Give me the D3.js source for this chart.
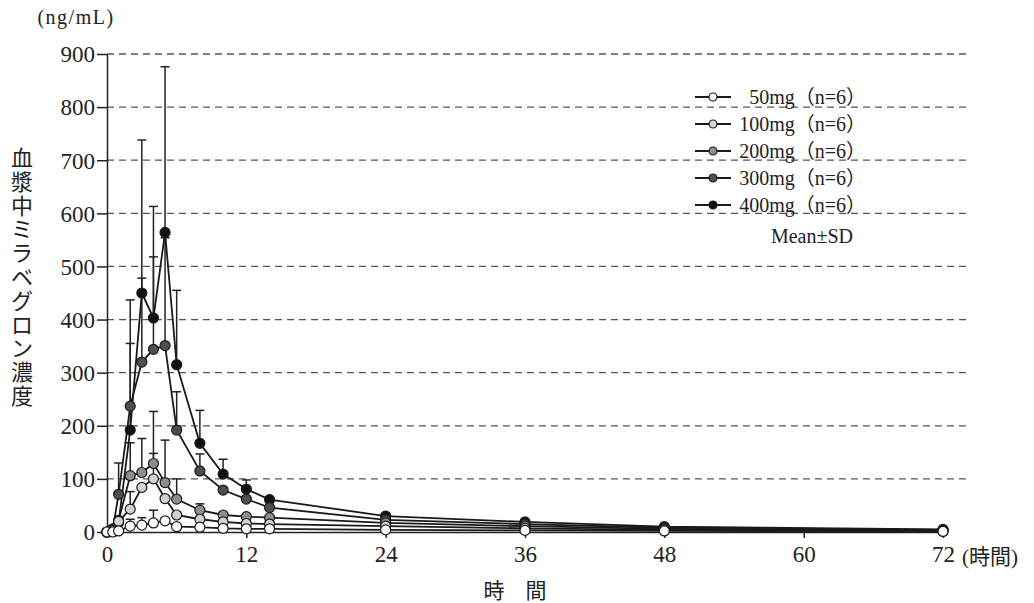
<!DOCTYPE html>
<html>
<head>
<meta charset="utf-8">
<script src="https://cdn.jsdelivr.net/npm/d3@7/dist/d3.min.js"></script>
<style>
  html, body { margin: 0; padding: 0; background: #fff; }
  svg { display: block; }
  text { font-family: "Liberation Serif", "DejaVu Serif", "Noto Sans CJK JP", serif; fill: #222; }
</style>
</head>
<body>
<svg id="chart" width="1034" height="603"></svg>
<script>
const times = [0, 0.5, 1, 2, 3, 4, 5, 6, 8, 10, 12, 14, 24, 36, 48, 72];
const seriesNames = ["50mg（n=6）", "100mg（n=6）", "200mg（n=6）", "300mg（n=6）", "400mg（n=6）"];
const mean50  = [0, 0, 2, 11, 13, 17, 21, 10, 9, 7, 6, 6, 4, 3, 2, 1];
const mean100 = [0, 2, 20, 43, 84, 100, 63, 32, 24, 19, 16, 15, 11, 7, 4, 2];
const mean200 = [0, 3, 22, 106, 112, 129, 93, 62, 41, 32, 29, 27, 17, 11, 6, 3];
const mean300 = [0, 6, 71, 237, 320, 344, 351, 192, 115, 79, 62, 46, 23, 15, 8, 4];
const mean400 = [0, 4, 18, 192, 450, 403, 564, 315, 167, 109, 81, 61, 30, 19, 10, 5];
const sd50  = [null, null, null, 13, 14, 24, 5, null, null, null, null, null, null, null, null, null];
const sd100 = [null, null, null, 33, null, 48, null, null, null, null, null, null, null, null, null, null];
const sd200 = [null, null, null, 62, 64, 98, 80, 38, 12, null, null, null, null, null, null, null];
const sd300 = [null, null, 59, 118, 158, 174, 203, 72, 32, null, null, null, null, null, null, null];
const sd400 = [null, null, null, 245, 288, 210, 312, 140, 62, 28, 17, null, null, null, null, null];
const fills = ["#ffffff", "#d2d2d2", "#8e8e8e", "#4e4e4e", "#111111"];
const xTicks = [0, 12, 24, 36, 48, 60, 72];
const yTicks = [0, 100, 200, 300, 400, 500, 600, 700, 800, 900];
const yTitle = "血漿中ミラベグロン濃度";

const means = [mean50, mean100, mean200, mean300, mean400];
const sds = [sd50, sd100, sd200, sd300, sd400];
const serif = '"Liberation Serif", "DejaVu Serif", "Noto Sans CJK JP", serif';

const svg = d3.select("#chart");
const x = d3.scaleLinear().domain([0, 72]).range([107, 943]);
const y = d3.scaleLinear().domain([0, 900]).range([532, 54]);

// gridlines
svg.append("g").selectAll("line").data(yTicks.filter(d => d > 0)).join("line")
  .attr("x1", x(0)).attr("x2", 968)
  .attr("y1", d => y(d)).attr("y2", d => y(d))
  .attr("stroke", "#555").attr("stroke-width", 1.3).attr("stroke-dasharray", "7,5");

// y axis
const yAxis = svg.append("g").attr("transform", `translate(${x(0)},0)`)
  .call(d3.axisLeft(y).tickValues(yTicks).tickSize(10).tickPadding(2).tickSizeOuter(0))
  .attr("font-family", serif).attr("font-size", 23);
yAxis.select(".domain").attr("stroke", "#222").attr("stroke-width", 1.5);
yAxis.selectAll(".tick line").attr("stroke", "#222").attr("stroke-width", 1.5);
yAxis.selectAll(".tick text").attr("fill", "#222").attr("dy", "0.34em");

// x axis
const xAxis = svg.append("g").attr("transform", `translate(0,${y(0)})`)
  .call(d3.axisBottom(x).tickValues(xTicks).tickSize(6).tickPadding(8).tickSizeOuter(0))
  .attr("font-family", serif).attr("font-size", 23);
xAxis.select(".domain").attr("stroke", "#222").attr("stroke-width", 1.5);
xAxis.selectAll(".tick line").attr("stroke", "#222").attr("stroke-width", 1.5);
xAxis.selectAll(".tick text").attr("fill", "#222");

svg.append("text").attr("x", 962).attr("y", 564).attr("font-size", 21).text("(時間)");
svg.append("text").attr("x", 515).attr("y", 598).attr("font-size", 21)
  .attr("text-anchor", "middle").text("時　間");
svg.append("text").attr("x", 76).attr("y", 24).attr("font-size", 20)
  .attr("letter-spacing", 1.5).attr("text-anchor", "middle").text("(ng/mL)");

// y title vertical
svg.append("g").selectAll("text").data(yTitle.split("")).join("text")
  .attr("x", 22).attr("y", (d, i) => 166 + i * 23.8)
  .attr("text-anchor", "middle").attr("font-size", 22).text(d => d);

// error bars
const ebG = svg.append("g");
sds.forEach((sd, s) => {
  times.forEach((t, i) => {
    if (sd[i] == null) return;
    const top = means[s][i] + sd[i];
    ebG.append("line").attr("x1", x(t)).attr("x2", x(t))
      .attr("y1", y(means[s][i])).attr("y2", y(top))
      .attr("stroke", "#222").attr("stroke-width", 1.5);
    ebG.append("line").attr("x1", x(t) - 4.5).attr("x2", x(t) + 4.5)
      .attr("y1", y(top)).attr("y2", y(top))
      .attr("stroke", "#222").attr("stroke-width", 1.5);
  });
});

// lines
const line = d3.line().x((d, i) => x(times[i])).y(d => y(d));
const order = [4, 3, 2, 1, 0];
order.forEach(s => {
  svg.append("path").datum(means[s]).attr("d", line)
    .attr("fill", "none").attr("stroke", "#1a1a1a").attr("stroke-width", 1.8);
});
order.forEach(s => {
  svg.append("g").selectAll("circle").data(means[s]).join("circle")
    .attr("cx", (d, i) => x(times[i])).attr("cy", d => y(d)).attr("r", 5)
    .attr("fill", fills[s]).attr("stroke", "#1a1a1a").attr("stroke-width", 1.2);
});

// legend
const lg = svg.append("g");
seriesNames.forEach((name, s) => {
  const ly = 97 + s * 27;
  lg.append("line").attr("x1", 695).attr("x2", 731).attr("y1", ly).attr("y2", ly)
    .attr("stroke", "#1a1a1a").attr("stroke-width", 1.8);
  lg.append("circle").attr("cx", 713).attr("cy", ly).attr("r", 4)
    .attr("fill", fills[s]).attr("stroke", "#1a1a1a").attr("stroke-width", 1.2);
  lg.append("text").attr("x", 866).attr("y", ly + 7).attr("text-anchor", "end")
    .attr("font-size", 20).text(name);
});
lg.append("text").attr("x", 812).attr("y", 243).attr("text-anchor", "middle")
  .attr("font-size", 20).text("Mean±SD");
</script>
</body>
</html>
